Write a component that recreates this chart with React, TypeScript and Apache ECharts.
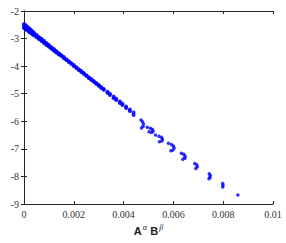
import React, { useEffect, useRef } from "react";
import * as echarts from "echarts";

// Dense band of points (x, y)
const bandPoints: [number, number][] = [
  [0.0, -2.47], [0.0, -2.55], [0.0, -2.62],
  [0.00005, -2.51], [0.00005, -2.59], [0.00005, -2.65],
  [0.0001, -2.55], [0.0001, -2.62], [0.0001, -2.68],
  [0.00015, -2.59], [0.00015, -2.66], [0.00015, -2.71],
  [0.0002, -2.63], [0.0002, -2.69], [0.0002, -2.75],
  [0.00025, -2.67], [0.00025, -2.73], [0.00025, -2.78],
  [0.0003, -2.71], [0.0003, -2.77], [0.0003, -2.81],
  [0.00035, -2.75], [0.00035, -2.8], [0.00035, -2.85],
  [0.0004, -2.79], [0.0004, -2.84], [0.0004, -2.88],
  [0.0005, -2.86], [0.0005, -2.91], [0.0005, -2.95],
  [0.0006, -2.94], [0.0006, -2.98], [0.0006, -3.02],
  [0.0007, -3.01], [0.0007, -3.05], [0.0007, -3.09],
  [0.0008, -3.08], [0.0008, -3.12], [0.0008, -3.16],
  [0.0009, -3.16], [0.0009, -3.2], [0.0009, -3.23],
  [0.001, -3.23], [0.001, -3.27], [0.001, -3.3],
  [0.0011, -3.31], [0.0011, -3.34], [0.0011, -3.37],
  [0.0012, -3.38], [0.0012, -3.41], [0.0012, -3.44],
  [0.0013, -3.46], [0.0013, -3.49], [0.0013, -3.51],
  [0.0014, -3.53], [0.0014, -3.56], [0.0014, -3.58],
  [0.0015, -3.6], [0.0015, -3.63],
  [0.0016, -3.67], [0.0016, -3.71],
  [0.0017, -3.75], [0.0017, -3.78],
  [0.0018, -3.82], [0.0018, -3.85],
  [0.0019, -3.89], [0.0019, -3.92],
  [0.002, -3.96], [0.002, -4.0],
  [0.0021, -4.04], [0.0021, -4.07],
  [0.0022, -4.11], [0.0022, -4.14],
  [0.0023, -4.18], [0.0023, -4.21],
  [0.0024, -4.25], [0.0024, -4.28],
  [0.0025, -4.33], [0.0025, -4.35],
  [0.0026, -4.4], [0.0026, -4.43],
  [0.0027, -4.47], [0.0027, -4.5],
  [0.0028, -4.54], [0.0028, -4.57],
  [0.0029, -4.61], [0.0029, -4.64],
  [0.003, -4.68], [0.003, -4.71],
  [0.0031, -4.76], [0.0031, -4.79],
  [0.0032, -4.83], [0.0032, -4.86],
  [0.00335, -4.93], [0.00335, -4.97],
  [0.00345, -5.0], [0.00345, -5.05],
  [0.0036, -5.1], [0.0036, -5.16],
  [0.0037, -5.18], [0.0037, -5.23],
  [0.00385, -5.28], [0.00385, -5.34],
  [0.00395, -5.36], [0.00395, -5.41],
  [0.0041, -5.46], [0.0041, -5.52],
  [0.00425, -5.57], [0.00425, -5.63],
  [0.0044, -5.68], [0.0044, -5.77],
];

// Discrete clusters further along
const clusterPoints: [number, number][] = [
  [0.0047, -5.95], [0.00476, -6.02], [0.0048, -6.1], [0.00478, -6.18], [0.00472, -6.24],
  [0.00495, -6.22], [0.00508, -6.25], [0.00516, -6.3], [0.00518, -6.36], [0.00512, -6.41], [0.00502, -6.38],
  [0.00528, -6.5], [0.00542, -6.54], [0.00552, -6.58], [0.00556, -6.64], [0.00554, -6.71], [0.00544, -6.74],
  [0.0058, -6.8], [0.00592, -6.84], [0.006, -6.9], [0.00603, -6.97], [0.00598, -7.04], [0.0059, -7.07],
  [0.00632, -7.16], [0.00642, -7.2], [0.00647, -7.27], [0.00646, -7.34], [0.00638, -7.38],
  [0.00686, -7.53], [0.00694, -7.58], [0.00696, -7.65], [0.0069, -7.71],
  [0.00744, -7.9], [0.00748, -7.96], [0.00747, -8.03], [0.00743, -8.08],
  [0.00798, -8.26], [0.00799, -8.32], [0.00798, -8.38],
  [0.00859, -8.67],
];

const X_MIN = 0;
const X_MAX = 0.01;
const X_STEP = 0.002;
const Y_MIN = -9;
const Y_MAX = -2;
const Y_STEP = 1;

export default function App() {
  const ref = useRef<HTMLDivElement>(null);

  useEffect(() => {
    document.body.style.margin = "0";
    if (!ref.current) return;
    const chart = echarts.init(ref.current, undefined, { renderer: "svg" });
    const axisColor = "#262626";
    const labelStyle = {
      color: "#333333",
      fontFamily: "Liberation Serif",
      fontSize: 10,
    };
    chart.setOption({
      animation: false,
      grid: { left: 24, right: 13, top: 11, bottom: 39 },
      xAxis: [
        {
          type: "value",
          min: X_MIN,
          max: X_MAX,
          interval: X_STEP,
          position: "bottom",
          axisLine: { show: true, lineStyle: { color: axisColor, width: 1 } },
          axisTick: { show: true, inside: true, length: 3, lineStyle: { color: axisColor } },
          axisLabel: { ...labelStyle, margin: 5 },
          splitLine: { show: false },
          name: "{b|A}{s|α} {b|B}{s|β}",
          nameLocation: "middle",
          nameGap: 19,
          nameTextStyle: {
            rich: {
              b: { fontFamily: "Liberation Sans", fontWeight: "bold", fontSize: 11, color: "#222" },
              s: { fontFamily: "Liberation Serif", fontStyle: "italic", fontSize: 8, color: "#222", verticalAlign: "top", padding: [0, 0, 6, 1] },
            },
          },
        },
        {
          type: "value",
          min: X_MIN,
          max: X_MAX,
          interval: X_STEP,
          position: "top",
          axisLine: { show: true, lineStyle: { color: axisColor, width: 1 } },
          axisTick: { show: true, inside: true, length: 3, lineStyle: { color: axisColor } },
          axisLabel: { show: false },
          splitLine: { show: false },
        },
      ],
      yAxis: [
        {
          type: "value",
          min: Y_MIN,
          max: Y_MAX,
          interval: Y_STEP,
          position: "left",
          axisLine: { show: true, lineStyle: { color: axisColor, width: 1 } },
          axisTick: { show: true, inside: true, length: 3, lineStyle: { color: axisColor } },
          axisLabel: { ...labelStyle, margin: 5 },
          splitLine: { show: false },
        },
        {
          type: "value",
          min: Y_MIN,
          max: Y_MAX,
          interval: Y_STEP,
          position: "right",
          axisLine: { show: true, lineStyle: { color: axisColor, width: 1 } },
          axisTick: { show: true, inside: true, length: 3, lineStyle: { color: axisColor } },
          axisLabel: { show: false },
          splitLine: { show: false },
        },
      ],
      series: [
        {
          type: "scatter",
          data: bandPoints,
          symbol: "circle",
          symbolSize: 4,
          itemStyle: { color: "#0000ff", opacity: 0.85 },
        },
        {
          type: "scatter",
          data: clusterPoints,
          symbol: "circle",
          symbolSize: 3.5,
          itemStyle: { color: "#0000ff", opacity: 0.8 },
        },
      ],
    });
    return () => chart.dispose();
  }, []);

  return <div ref={ref} style={{ width: 286, height: 243 }} />;
}
